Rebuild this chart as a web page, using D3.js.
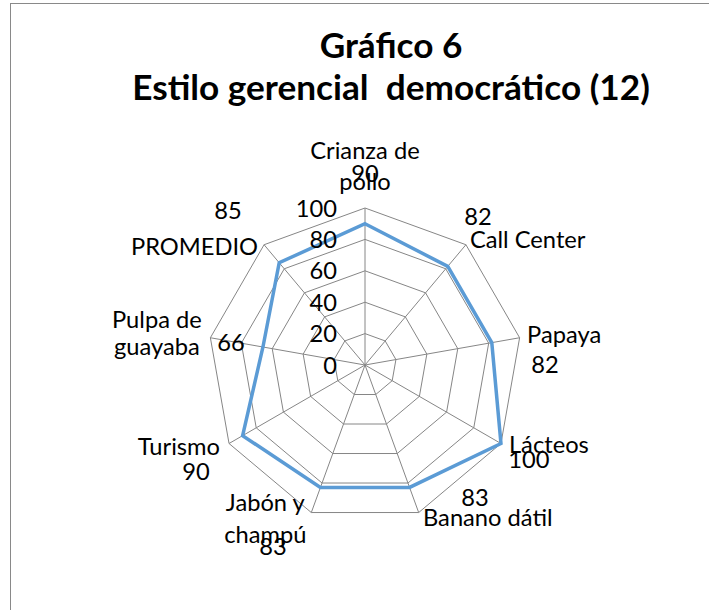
<!DOCTYPE html>
<html><head><meta charset="utf-8">
<script src="https://cdn.jsdelivr.net/npm/d3@7"></script>
<style>body{margin:0;background:#fff;}svg{display:block;}text{font-family:Lato,"Open Sans",sans-serif;fill:#000;white-space:pre;}</style>
</head><body>
<svg id="c" width="709" height="610"></svg>
<script>
const categories = [["Crianza de","pollo"],["Call Center"],["Papaya"],["Lácteos"],["Banano dátil"],["Jabón y","champú"],["Turismo"],["Pulpa de","guayaba"],["PROMEDIO"]];
const values = [90, 82, 82, 100, 83, 83, 90, 66, 85];
const tickValues = [0, 20, 40, 60, 80, 100];
const titleLines = ["Gráfico 6", "Estilo gerencial  democrático (12)"];

// layout (positions relative to outer-ring vertices)
const catLayout = [
  {a:"middle", dx:0, dy:-49, lh:31},
  {a:"start", dx:4, dy:3},
  {a:"start", dx:7.5, dy:5.5},
  {a:"start", dx:8, dy:9.5},
  {a:"start", dx:4.3, dy:13.5},
  {a:"middle", dx:-46, dy:-1.5, lh:32},
  {a:"end", dx:-9, dy:11.5},
  {a:"middle", dx:-53.5, dy:-9.7, lh:27},
  {a:"end", dx:-6, dy:10.3}
];
const valLayout = [[0,-26],[12,-19.7],[25.5,35.3],[28,24.5],[56.3,-6.5],[-38.3,42.5],[-33,36.5],[20.6,13.3],[-36.1,-25.7]];

const svg = d3.select("#c");
svg.append("rect").attr("x",10.5).attr("y",3.5).attr("width",900).attr("height",800)
  .attr("fill","#fff").attr("stroke","#898989").attr("stroke-width",1);

const cx = 365, cy = 365, R = 157;
const fs = 23.7;
const r = d3.scaleLinear().domain([0,100]).range([0,R]);
const ang = d3.scaleLinear().domain([0, categories.length]).range([0, 2*Math.PI]);
const pt = (i, v) => [cx + r(v)*Math.sin(ang(i)), cy - r(v)*Math.cos(ang(i))];

const g = svg.append("g");
// rings
tickValues.filter(t=>t>0).forEach(t=>{
  g.append("path").attr("d", d3.line()(d3.range(categories.length).map(i=>pt(i,t))) + "Z")
   .attr("fill","none").attr("stroke","#868686").attr("stroke-width",1);
});
// spokes
categories.forEach((c,i)=>{
  const p = pt(i,100);
  g.append("line").attr("x1",cx).attr("y1",cy).attr("x2",p[0]).attr("y2",p[1])
   .attr("stroke","#868686").attr("stroke-width",1);
});
// series
g.append("path").attr("d", d3.line()(values.map((v,i)=>pt(i,v))) + "Z")
  .attr("fill","none").attr("stroke","#5B9BD5").attr("stroke-width",3.5).attr("stroke-linejoin","miter");

// tick labels
tickValues.forEach(t=>{
  g.append("text").attr("x",cx-28).attr("y",cy - r(t) + 8.5).attr("text-anchor","end")
   .attr("font-size",fs).text(t);
});

// category labels
categories.forEach((lines,i)=>{
  const p = pt(i,100), L = catLayout[i];
  const t = g.append("text").attr("text-anchor",L.a).attr("font-size",fs);
  lines.forEach((ln,k)=>{
    t.append("tspan").attr("x",p[0]+L.dx).attr("y",p[1]+L.dy+k*(L.lh||0)).text(ln);
  });
});
// value labels
values.forEach((v,i)=>{
  const p = pt(i,100);
  g.append("text").attr("x",p[0]+valLayout[i][0]).attr("y",p[1]+valLayout[i][1])
   .attr("text-anchor","middle").attr("font-size",fs).text(v);
});

// title
titleLines.forEach((t,k)=>{
  svg.append("text").attr("x",391).attr("y",[58,100][k]).attr("text-anchor","middle")
   .attr("font-size",35.2).attr("font-weight","bold").text(t);
});
</script>
</body></html>
